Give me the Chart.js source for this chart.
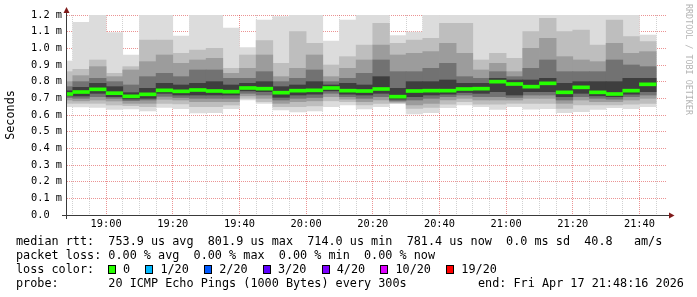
<!DOCTYPE html>
<html>
<head>
<meta charset="utf-8">
<script src="https://cdn.jsdelivr.net/npm/chart.js@4.4.1/dist/chart.umd.min.js"></script>
<style>
  body { margin: 0; background: #fff; }
  #wrap { position: relative; width: 697px; height: 297px; }
  #wrap canvas { position: absolute; left: 0; top: 0; }
  .leg { position: absolute; left: 16px; font: 11.8px "DejaVu Sans Mono", monospace; line-height: 14px; color: #000; white-space: pre; }
  .box { position: absolute; top: 265px; width: 6px; height: 7px; border: 1px solid #000; }
  .lbl { position: absolute; top: 262px; font: 11.8px "DejaVu Sans Mono", monospace; line-height: 14px; white-space: pre; }
</style>
</head>
<body>
<div id="wrap">
  <canvas id="chart"></canvas>
  <div class="leg" style="top:234px">median rtt:  753.9 us avg  801.9 us max  714.0 us min  781.4 us now  0.0 ms sd  40.8   am/s</div>
  <div class="leg" style="top:248px">packet loss: 0.00 % avg  0.00 % max  0.00 % min  0.00 % now</div>
  <div class="leg" style="top:262px">loss color:</div>
  <div class="leg" style="top:276px">probe:       20 ICMP Echo Pings (1000 Bytes) every 300s</div>
  <div class="leg" style="top:276px;left:478px">end: Fri Apr 17 21:48:16 2026</div>
</div>
<script>
// 5 minute steps, start of each interval (first one is cut by the graph start)
const colTimes = ["18:45", "18:50", "18:55", "19:00", "19:05", "19:10", "19:15", "19:20", "19:25",
  "19:30", "19:35", "19:40", "19:45", "19:50", "19:55", "20:00", "20:05", "20:10", "20:15", "20:20",
  "20:25", "20:30", "20:35", "20:40", "20:45", "20:50", "20:55", "21:00", "21:05", "21:10", "21:15",
  "21:20", "21:25", "21:30", "21:35", "21:40"];

// rtt in ms, smoke levels from the top down
const maxV = [0.924, 1.156, 1.25, 1.094, 0.96, 1.25, 1.25, 1.074, 1.25, 1.25, 1.122, 1.004, 1.17, 1.19, 1.25, 1.25, 1.044, 1.17,
  1.25, 1.25, 1.076, 1.098, 1.25, 1.25, 1.25, 1.25, 1.25, 1.25, 1.25, 1.25, 1.25, 1.25, 1.25, 1.25, 1.25, 1.08];
const hi2 = [0.86, 0.874, 0.93, 0.85, 0.89, 1.05, 1.05, 0.97, 0.99, 1.0, 0.88, 0.96, 1.046, 0.91, 1.1, 1.03, 0.9, 0.95,
  1.02, 1.15, 1.03, 1.05, 1.06, 1.15, 1.15, 0.93, 0.97, 0.94, 1.1, 1.18, 1.1, 1.11, 1.02, 1.17, 1.07, 1.04];
const hi3 = [0.8, 0.836, 0.89, 0.83, 0.87, 0.92, 0.96, 0.91, 0.93, 0.94, 0.85, 0.88, 0.96, 0.83, 0.88, 0.96, 0.83, 0.88,
  0.93, 1.02, 0.96, 0.97, 0.98, 1.03, 0.97, 0.87, 0.91, 0.86, 1.0, 1.06, 0.95, 0.93, 0.92, 1.03, 0.97, 0.98];
const hi4 = [0.77, 0.8, 0.82, 0.8, 0.78, 0.83, 0.85, 0.83, 0.87, 0.87, 0.82, 0.82, 0.86, 0.8, 0.82, 0.87, 0.8, 0.82,
  0.85, 0.93, 0.86, 0.86, 0.88, 0.91, 0.83, 0.82, 0.86, 0.83, 0.88, 0.93, 0.86, 0.86, 0.86, 0.93, 0.9, 0.89];
const hi5 = [0.745, 0.766, 0.79, 0.77, 0.734, 0.76, 0.79, 0.78, 0.79, 0.8, 0.78, 0.79, 0.8, 0.77, 0.78, 0.8, 0.78, 0.79,
  0.78, 0.83, 0.76, 0.8, 0.8, 0.81, 0.79, 0.79, 0.82, 0.81, 0.81, 0.82, 0.79, 0.8, 0.8, 0.8, 0.82, 0.82];
const median = [0.726, 0.738, 0.754, 0.731, 0.712, 0.724, 0.748, 0.742, 0.75, 0.744, 0.74, 0.762, 0.758, 0.734, 0.746, 0.748, 0.762, 0.746,
  0.744, 0.756, 0.71, 0.744, 0.746, 0.746, 0.756, 0.758, 0.8, 0.786, 0.77, 0.79, 0.736, 0.766, 0.736, 0.726, 0.746, 0.784];
const lo5 = [0.715, 0.714, 0.73, 0.71, 0.696, 0.7, 0.73, 0.72, 0.72, 0.72, 0.72, 0.745, 0.74, 0.706, 0.72, 0.725, 0.745, 0.725,
  0.72, 0.73, 0.695, 0.71, 0.72, 0.725, 0.735, 0.73, 0.74, 0.72, 0.74, 0.74, 0.71, 0.73, 0.715, 0.71, 0.725, 0.74];
const lo4 = [0.705, 0.7, 0.71, 0.7, 0.686, 0.69, 0.712, 0.705, 0.7, 0.7, 0.7, 0.73, 0.72, 0.69, 0.7, 0.705, 0.73, 0.71,
  0.7, 0.71, 0.685, 0.69, 0.7, 0.71, 0.72, 0.71, 0.71, 0.705, 0.72, 0.72, 0.69, 0.71, 0.7, 0.695, 0.71, 0.72];
const lo3 = [0.69, 0.685, 0.69, 0.684, 0.67, 0.67, 0.694, 0.69, 0.68, 0.68, 0.68, 0.715, 0.7, 0.67, 0.68, 0.685, 0.71, 0.695,
  0.68, 0.69, 0.678, 0.66, 0.67, 0.69, 0.7, 0.69, 0.69, 0.69, 0.7, 0.7, 0.67, 0.69, 0.68, 0.68, 0.69, 0.7];
const lo2 = [0.67, 0.67, 0.67, 0.66, 0.656, 0.65, 0.67, 0.666, 0.65, 0.65, 0.66, 0.7, 0.68, 0.65, 0.65, 0.655, 0.685, 0.68,
  0.66, 0.67, 0.672, 0.64, 0.645, 0.665, 0.68, 0.665, 0.665, 0.67, 0.67, 0.67, 0.64, 0.66, 0.66, 0.66, 0.665, 0.67];
const minV = [0.65, 0.648, 0.646, 0.634, 0.636, 0.624, 0.646, 0.638, 0.612, 0.614, 0.638, 0.69, 0.67, 0.63, 0.618, 0.624, 0.65, 0.66,
  0.636, 0.65, 0.668, 0.606, 0.614, 0.644, 0.66, 0.65, 0.634, 0.65, 0.635, 0.638, 0.614, 0.62, 0.634, 0.644, 0.638, 0.65];

const yTickValues = [0, 0.1, 0.2, 0.3, 0.4, 0.5, 0.6, 0.7, 0.8, 0.9, 1.0, 1.1, 1.2];
const yTickLabels = ["0.0  ", "0.1 m", "0.2 m", "0.3 m", "0.4 m", "0.5 m", "0.6 m", "0.7 m", "0.8 m", "0.9 m", "1.0 m", "1.1 m", "1.2 m"];
const xTickTimes = ["19:00", "19:20", "19:40", "20:00", "20:20", "20:40", "21:00", "21:20", "21:40"];
const graphStart = "18:48:16";
const graphEnd = "21:48:16";

const lossLabels = ["0", "1/20", "2/20", "3/20", "4/20", "10/20", "19/20"];
const lossColors = ["#26ff00", "#00b8ff", "#0059ff", "#5e00ff", "#7e00ff", "#dd00ff", "#ff0000"];

// minutes after 18:00
function toMin(t) {
  const p = t.split(":").map(Number);
  return (p[0] - 18) * 60 + p[1] + (p[2] || 0) / 60;
}
const colMid = colTimes.map((t) => toMin(t) + 2.5);

const MGRID = "rgba(215, 40, 40, 0.5)";
const GRID = "rgba(140, 140, 140, 0.4)";
const AXIS = "#3a3a3a";
const ARROW = "#7f1a1a";
const axisFont = { family: "DejaVu Sans Mono", size: 10.3 };

function band(label, lo, hi, color, order) {
  return {
    label,
    order,
    backgroundColor: color,
    borderWidth: 0,
    grouped: false,
    clip: 0,
    barPercentage: 1,
    categoryPercentage: 1,
    data: colMid.map((x, i) => ({ x, y: [lo[i], hi[i]] })),
  };
}

const medianBars = band("median", median.map((v) => v - 0.009), median.map((v) => v + 0.009), lossColors[0], 0);

const rrdFrame = {
  id: "rrdFrame",
  afterDraw(chart) {
    const { ctx, chartArea: a } = chart;
    ctx.save();
    ctx.strokeStyle = AXIS;
    ctx.lineWidth = 1;
    ctx.beginPath();
    ctx.moveTo(a.left - 5, a.bottom + 0.5);
    ctx.lineTo(a.right + 3, a.bottom + 0.5);
    ctx.moveTo(a.left - 0.5, a.bottom + 4);
    ctx.lineTo(a.left - 0.5, a.top - 3);
    ctx.stroke();
    ctx.fillStyle = ARROW;
    ctx.beginPath();
    ctx.moveTo(a.left - 0.5, a.top - 8);
    ctx.lineTo(a.left - 3.5, a.top - 2);
    ctx.lineTo(a.left + 2.5, a.top - 2);
    ctx.fill();
    ctx.beginPath();
    ctx.moveTo(a.right + 7.5, a.bottom + 0.5);
    ctx.lineTo(a.right + 2, a.bottom - 2.5);
    ctx.lineTo(a.right + 2, a.bottom + 3.5);
    ctx.fill();
    ctx.translate(688.5, 4);
    ctx.rotate(Math.PI / 2);
    ctx.font = '8.4px "DejaVu Sans Mono"';
    ctx.fillStyle = "#b4b4b4";
    ctx.textBaseline = "middle";
    ctx.fillText("RRDTOOL / TOBI OETIKER", 0, 0);
    ctx.restore();
  },
};

new Chart(document.getElementById("chart"), {
  type: "bar",
  data: {
    datasets: [
      medianBars,
      band("smoke 5", lo5, hi5, "#3e3e3e", 1),
      band("smoke 4", lo4, hi4, "#727272", 2),
      band("smoke 3", lo3, hi3, "#9c9c9c", 3),
      band("smoke 2", lo2, hi2, "#bebebe", 4),
      band("smoke 1", minV, maxV, "#dcdcdc", 5),
    ],
  },
  options: {
    responsive: true,
    maintainAspectRatio: false,
    animation: false,
    layout: { padding: { left: 0, right: 30, top: 15, bottom: 0 } },
    plugins: { legend: { display: false }, tooltip: { enabled: false } },
    scales: {
      x: {
        type: "linear",
        position: "bottom",
        min: toMin(graphStart),
        max: toMin(graphEnd),
        offset: false,
        z: 1,
        afterBuildTicks: (s) => { s.ticks = xTickTimes.map((t) => ({ value: toMin(t) })); },
        afterFit: (s) => { s.height = 82; },
        grid: { color: MGRID, drawTicks: false, offset: false },
        border: { display: false, dash: [1, 1] },
        ticks: { callback: (v, i) => xTickTimes[i], font: axisFont, color: "#000", padding: 3, maxRotation: 0, autoSkip: false },
      },
      x2: {
        type: "linear",
        position: "bottom",
        min: toMin(graphStart),
        max: toMin(graphEnd),
        offset: false,
        z: 1,
        afterBuildTicks: (s) => {
          const list = [];
          for (let m = 50; m < toMin(graphEnd); m += 5) if (m % 20) list.push({ value: m });
          s.ticks = list;
        },
        afterFit: (s) => { s.height = 0; },
        grid: { color: GRID, drawTicks: false, offset: false },
        border: { display: false, dash: [1, 1] },
        ticks: { display: false },
      },
      y: {
        type: "linear",
        min: 0,
        max: 1.2,
        z: 1,
        afterBuildTicks: (s) => { s.ticks = yTickValues.map((v) => ({ value: v })); },
        afterFit: (s) => { s.width = 67; },
        grid: { color: MGRID, drawTicks: false },
        border: { display: false, dash: [1, 1] },
        ticks: { callback: (v, i) => yTickLabels[i], font: axisFont, color: "#000", padding: 5 },
        title: { display: true, text: "Seconds", color: "#000", font: { family: "DejaVu Sans Mono", size: 11.8 }, padding: { top: 4, bottom: 0 } },
      },
    },
  },
  plugins: [rrdFrame],
});

// loss colour legend row
const wrap = document.getElementById("wrap");
let lx = 108;
lossLabels.forEach((label, i) => {
  const box = document.createElement("div");
  box.className = "box";
  box.style.left = lx + "px";
  box.style.background = lossColors[i];
  wrap.appendChild(box);
  const txt = document.createElement("div");
  txt.className = "lbl";
  txt.style.left = (lx + 15) + "px";
  txt.textContent = label;
  wrap.appendChild(txt);
  lx += 15 + label.length * 7.115 + 15.3;
});
</script>
</body>
</html>
